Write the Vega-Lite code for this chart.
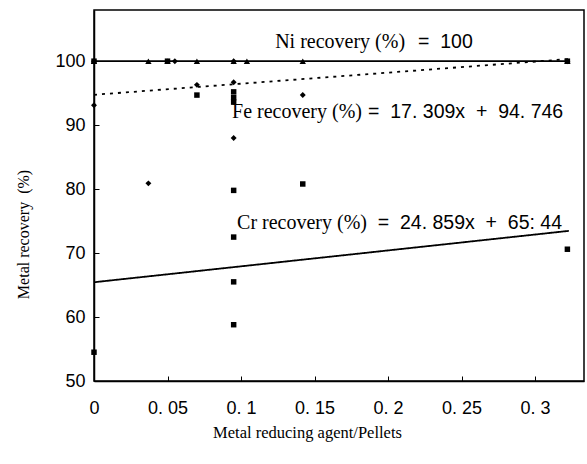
{
  "$schema": "https://vega.github.io/schema/vega-lite/v6.json",
  "autosize": {"type": "none"},
  "padding": {"left": 94, "top": 10, "right": 3, "bottom": 83},
  "width": 490,
  "height": 371,
  "background": "white",
  "config": {"view": {"stroke": "black", "strokeWidth": 1.5}},
  "datasets": {
    "pts": [
      {"metal": "Ni", "x": 0, "y": 100},
      {"metal": "Ni", "x": 0.037, "y": 100},
      {"metal": "Ni", "x": 0.05, "y": 100},
      {"metal": "Ni", "x": 0.07, "y": 100},
      {"metal": "Ni", "x": 0.095, "y": 100},
      {"metal": "Ni", "x": 0.104, "y": 100},
      {"metal": "Ni", "x": 0.142, "y": 100},
      {"metal": "Ni", "x": 0.322, "y": 100},
      {"metal": "Fe", "x": 0, "y": 100},
      {"metal": "Fe", "x": 0, "y": 93.1},
      {"metal": "Fe", "x": 0.037, "y": 80.9},
      {"metal": "Fe", "x": 0.055, "y": 100},
      {"metal": "Fe", "x": 0.07, "y": 96.3},
      {"metal": "Fe", "x": 0.095, "y": 100},
      {"metal": "Fe", "x": 0.095, "y": 96.7},
      {"metal": "Fe", "x": 0.095, "y": 88},
      {"metal": "Fe", "x": 0.142, "y": 94.7},
      {"metal": "Fe", "x": 0.322, "y": 100},
      {"metal": "Cr", "x": 0, "y": 100},
      {"metal": "Cr", "x": 0, "y": 54.5},
      {"metal": "Cr", "x": 0.05, "y": 100},
      {"metal": "Cr", "x": 0.07, "y": 94.7},
      {"metal": "Cr", "x": 0.095, "y": 95.2},
      {"metal": "Cr", "x": 0.095, "y": 94.3},
      {"metal": "Cr", "x": 0.095, "y": 93.6},
      {"metal": "Cr", "x": 0.095, "y": 79.8},
      {"metal": "Cr", "x": 0.095, "y": 72.5},
      {"metal": "Cr", "x": 0.095, "y": 65.5},
      {"metal": "Cr", "x": 0.095, "y": 58.8},
      {"metal": "Cr", "x": 0.142, "y": 80.8},
      {"metal": "Cr", "x": 0.322, "y": 70.6},
      {"metal": "Cr", "x": 0.322, "y": 100}
    ],
    "fits": [
      {"metal": "Ni", "x": 0, "y": 100},
      {"metal": "Ni", "x": 0.323, "y": 100},
      {"metal": "Fe", "x": 0, "y": 94.746},
      {"metal": "Fe", "x": 0.323, "y": 100.337},
      {"metal": "Cr", "x": 0, "y": 65.44},
      {"metal": "Cr", "x": 0.323, "y": 73.47}
    ],
    "labels": [
      {"x": 0.2116, "y": 103.0, "name": "Ni recovery (%)", "x2": 0.2204, "eq": "=\u00a0\u00a0100"},
      {"x": 0.1823, "y": 92.06, "name": "Fe recovery (%)", "x2": 0.1864, "eq": "=\u00a0\u00a017.\u00a0309x\u00a0\u00a0+\u00a0\u00a094.\u00a0746"},
      {"x": 0.1857, "y": 74.7, "name": "Cr recovery (%)", "x2": 0.193, "eq": "=\u00a0\u00a024.\u00a0859x\u00a0\u00a0+\u00a0\u00a065:\u00a044"}
    ]
  },
  "layer": [
    {
      "data": {"name": "fits"},
      "mark": {"type": "line", "color": "black", "strokeWidth": 1.8},
      "encoding": {
        "x": {"field": "x", "type": "quantitative", "scale": {"domain": [0, 0.3333], "nice": false, "zero": false},
          "axis": {"values": [0, 0.05, 0.1, 0.15, 0.2, 0.25, 0.3], "labelExpr": "replace(format(datum.value, '~g'), '.', '.\u00a0')",
            "title": "Metal reducing agent/Pellets", "titleFont": "Liberation Serif", "titleFontSize": 16.5, "titleFontWeight": "normal", "titleColor": "black",
            "titleX": 213, "titleY": 51, "titleBaseline": "middle", "titleAnchor": "middle",
            "labelFont": "Liberation Sans", "labelFontSize": 18, "labelColor": "black", "labelPadding": 23, "labelOverlap": false,
            "tickSize": -5, "tickColor": "black", "domainColor": "black", "domainWidth": 1.5, "grid": false, "labelFlush": false}},
        "y": {"field": "y", "type": "quantitative", "scale": {"domain": [50, 108], "nice": false, "zero": false},
          "axis": {"values": [50, 60, 70, 80, 90, 100],
            "title": "Metal recovery\u00a0\u00a0(%)", "titleFont": "Liberation Serif", "titleFontSize": 16, "titleFontWeight": "normal", "titleColor": "black",
            "titleX": -71, "titleY": 224, "titleBaseline": "middle", "titleAnchor": "middle",
            "labelFont": "Liberation Sans", "labelFontSize": 18, "labelColor": "black", "labelPadding": 14, "labelOverlap": false,
            "tickSize": -5, "tickColor": "black", "domainColor": "black", "domainWidth": 1.5, "grid": false}},
        "detail": {"field": "metal"},
        "strokeDash": {"field": "metal", "type": "nominal", "scale": {"domain": ["Ni", "Fe", "Cr"], "range": [[1, 0], [3, 5], [1, 0]]}, "legend": null}
      }
    },
    {
      "data": {"name": "pts"},
      "mark": {"type": "point", "filled": true, "color": "black", "opacity": 1},
      "encoding": {
        "x": {"field": "x", "type": "quantitative"},
        "y": {"field": "y", "type": "quantitative"},
        "shape": {"field": "metal", "type": "nominal", "scale": {"domain": ["Ni", "Fe", "Cr"], "range": ["triangle-up", "diamond", "square"]}, "legend": null},
        "size": {"field": "metal", "type": "nominal", "scale": {"domain": ["Ni", "Fe", "Cr"], "range": [40, 30, 50]}, "legend": null}
      }
    },
    {
      "data": {"name": "labels"},
      "mark": {"type": "text", "font": "Liberation Serif", "fontSize": 20, "align": "right", "baseline": "middle", "color": "black"},
      "encoding": {
        "x": {"field": "x", "type": "quantitative"},
        "y": {"field": "y", "type": "quantitative"},
        "text": {"field": "name"}
      }
    },
    {
      "data": {"name": "labels"},
      "mark": {"type": "text", "font": "Liberation Sans", "fontSize": 19.5, "align": "left", "baseline": "middle", "color": "black"},
      "encoding": {
        "x": {"field": "x2", "type": "quantitative"},
        "y": {"field": "y", "type": "quantitative"},
        "text": {"field": "eq"}
      }
    }
  ]
}
